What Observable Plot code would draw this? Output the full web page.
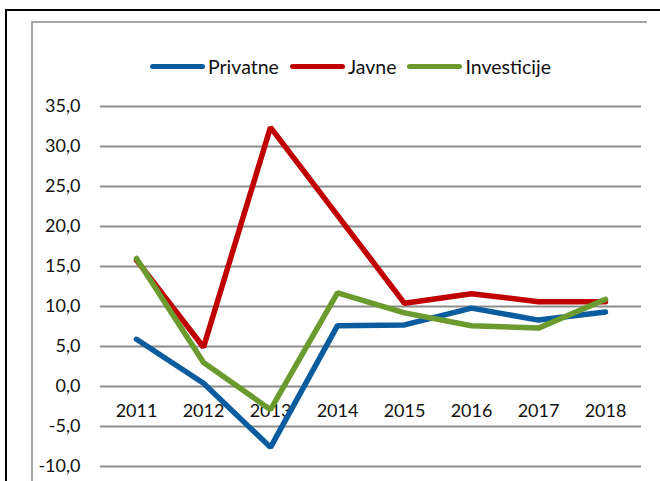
<!DOCTYPE html>
<html>
<head>
<meta charset="utf-8">
<script src="https://cdn.jsdelivr.net/npm/d3@7"></script>
<script src="https://cdn.jsdelivr.net/npm/@observablehq/plot@0.6"></script>
<style>
  html, body { margin: 0; padding: 0; background: #fff; }
  #wrap { position: relative; width: 660px; height: 481px; overflow: hidden; font-family: Lato, sans-serif; }
  #outer { position: absolute; left: 5px; top: 9px; width: 700px; height: 520px; border: 2.5px solid #000; box-sizing: border-box; }
  #inner { position: absolute; left: 31px; top: 21px; width: 616px; height: 520px; border-top: 2px solid #a6a6a6; border-left: 2px solid #a6a6a6; box-sizing: border-box; }
  #legend { position: absolute; top: 55px; left: 150px; display: flex; align-items: center; font-size: 19.5px; color: #111; }
  .item { display: flex; align-items: center; margin-right: 11px; }
  .sw { width: 55px; height: 5px; border-radius: 3px; margin-right: 3px; }
  #chart { position: absolute; left: 0; top: 0; }
</style>
</head>
<body>
<div id="wrap">
  <div id="outer"></div>
  <div id="inner"></div>
  <div id="chart"></div>
  <div id="legend"></div>
</div>
<script>
const years = ["2011", "2012", "2013", "2014", "2015", "2016", "2017", "2018"];
const privatne = [5.9, 0.4, -7.6, 7.6, 7.7, 9.8, 8.3, 9.3];
const javne = [15.8, 4.9, 32.4, 21.4, 10.4, 11.6, 10.6, 10.6];
const investicije = [16.0, 3.0, -2.9, 11.7, 9.2, 7.6, 7.3, 10.9];
const seriesNames = ["Privatne", "Javne", "Investicije"];
const seriesColors = ["#0b5c9e", "#c00000", "#6b9a2e"];
const yTicks = [-10, -5, 0, 5, 10, 15, 20, 25, 30, 35];

const seriesValues = [privatne, javne, investicije];
const rows = [];
seriesNames.forEach((name, i) => {
  years.forEach((y, j) => rows.push({series: name, year: y, value: seriesValues[i][j]}));
});

const fmt = d => d.toFixed(1).replace(".", ",");

const plot = Plot.plot({
  width: 660,
  height: 481,
  marginTop: 106,
  marginBottom: 15,
  marginLeft: 100,
  marginRight: 19,
  style: {fontFamily: "Lato, sans-serif", fontSize: "18px", color: "#111", background: "transparent"},
  x: {type: "point", domain: years, padding: 0.5, axis: null},
  y: {domain: [-10, 35], axis: null},
  color: {domain: seriesNames, range: seriesColors},
  marks: [
    Plot.ruleY(yTicks, {stroke: "#8c8c8c", strokeWidth: 1.8, strokeOpacity: 1}),
    Plot.axisY(yTicks, {label: null, tickSize: 0, tickPadding: 20, tickFormat: fmt, fontSize: 18, fill: "#111"}),
    Plot.text(years, {x: d => d, y: () => 0, dy: 25, text: d => d, fontSize: 18, fill: "#111"}),
    Plot.line(rows, {x: "year", y: "value", z: "series", stroke: "series", strokeWidth: 5.5, strokeLinejoin: "miter", strokeLinecap: "round"})
  ]
});
document.getElementById("chart").appendChild(plot);

const legend = document.getElementById("legend");
seriesNames.forEach((name, i) => {
  const item = document.createElement("div");
  item.className = "item";
  const sw = document.createElement("div");
  sw.className = "sw";
  sw.style.background = seriesColors[i];
  const t = document.createElement("span");
  t.textContent = name;
  item.appendChild(sw);
  item.appendChild(t);
  legend.appendChild(item);
});
</script>
</body>
</html>
